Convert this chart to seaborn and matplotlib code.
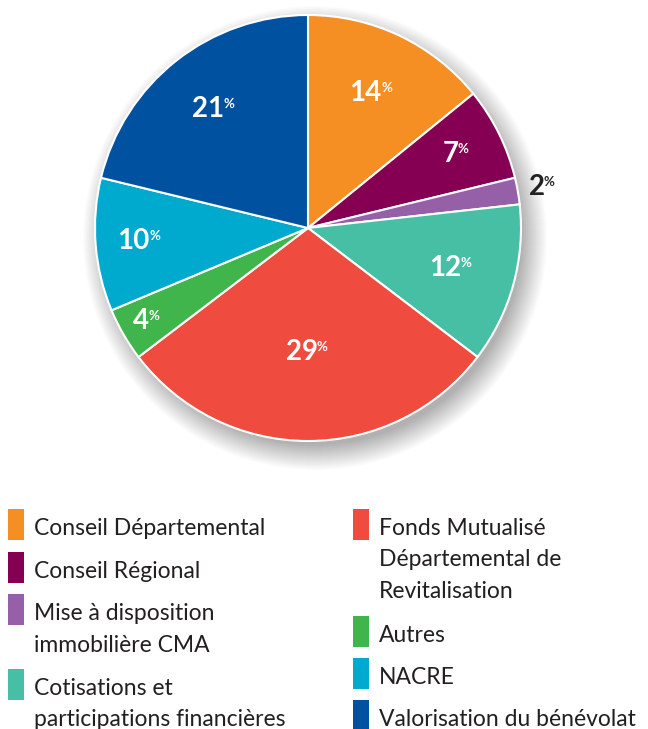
import numpy as np
import matplotlib
matplotlib.use("Agg")
import matplotlib.pyplot as plt
from matplotlib.patches import Circle, Rectangle
import seaborn as sns

# --- données ---
categories = [
    "Conseil Départemental",
    "Conseil Régional",
    "Mise à disposition\nimmobilière CMA",
    "Cotisations et\nparticipations financières",
    "Fonds Mutualisé\nDépartemental de\nRevitalisation",
    "Autres",
    "NACRE",
    "Valorisation du bénévolat",
]
valeurs = [14, 7, 2, 12, 29, 4, 10, 21]
couleurs = ["#F58F23", "#850052", "#9560A8", "#47BFA4",
            "#EF4C3F", "#40B54B", "#00A9CE", "#0052A0"]

sns.set_theme(style="white")
plt.rcParams["font.family"] = ["Lato", "DejaVu Sans"]
palette = sns.color_palette(couleurs)

W, H = 648, 729
fig = plt.figure(figsize=(W / 100, H / 100), dpi=100)

# axes carré de 500 px centré sur le centre du camembert (308, 228)
R_px = 213.0
half = 250
cx, cy = 308, 228
ax = fig.add_axes([(cx - half) / W, (H - cy - half) / H, 2 * half / W, 2 * half / H])

# ombre diffuse
px = 1.0 / R_px
for k in range(26):
    ax.add_patch(Circle((7 * px, -10 * px), 1 + (k - 6) * px, color="#000000",
                        alpha=0.012, lw=0, zorder=0))

wedges, _ = ax.pie(valeurs, colors=palette, startangle=90, counterclock=False,
                   wedgeprops=dict(edgecolor="white", linewidth=1.5),
                   radius=1.0)
for w in wedges:
    w.set_zorder(2)

# étiquettes
rayons_lbl = [0.70, 0.78, 1.12, 0.70, 0.58, 0.87, 0.79, 0.71]
total = sum(valeurs)
cumul = 0
for v, r in zip(valeurs, rayons_lbl):
    mid = 90 - 360 * (cumul + v / 2) / total
    cumul += v
    x = r * np.cos(np.radians(mid))
    y = r * np.sin(np.radians(mid))
    col = "#222222" if r > 1 else "white"
    t = ax.text(x - 0.03, y, str(v), ha="center", va="center", fontsize=20,
                fontweight="bold", color=col, zorder=5)
    ax.annotate("%", xy=(1, 0.92), xycoords=t, xytext=(-0.5, 0), textcoords="offset points",
                ha="left", va="top", fontsize=9.5, fontweight="bold", color=col, zorder=5)

ax.set_xlim(-half / R_px, half / R_px)
ax.set_ylim(-half / R_px, half / R_px)
ax.set_aspect("equal")
ax.axis("off")

# légende manuelle en deux colonnes
pos_leg = [(8, 509), (8, 552), (8, 594), (8, 669),
           (353, 509), (353, 616), (353, 658), (353, 700)]
for cat, c, (lx, ly) in zip(categories, palette, pos_leg):
    fig.patches.append(Rectangle((lx / W, 1 - (ly + 31) / H), 16 / W, 31 / H,
                                 transform=fig.transFigure, color=c, lw=0))
    for i, ligne in enumerate(cat.split("\n")):
        fig.text((lx + 26) / W, 1 - (ly + 26 + 31.5 * i) / H, ligne,
                 fontsize=16.5, color="#231F20", ha="left", va="baseline")

fig.savefig("out.png", dpi=100, facecolor="white")
